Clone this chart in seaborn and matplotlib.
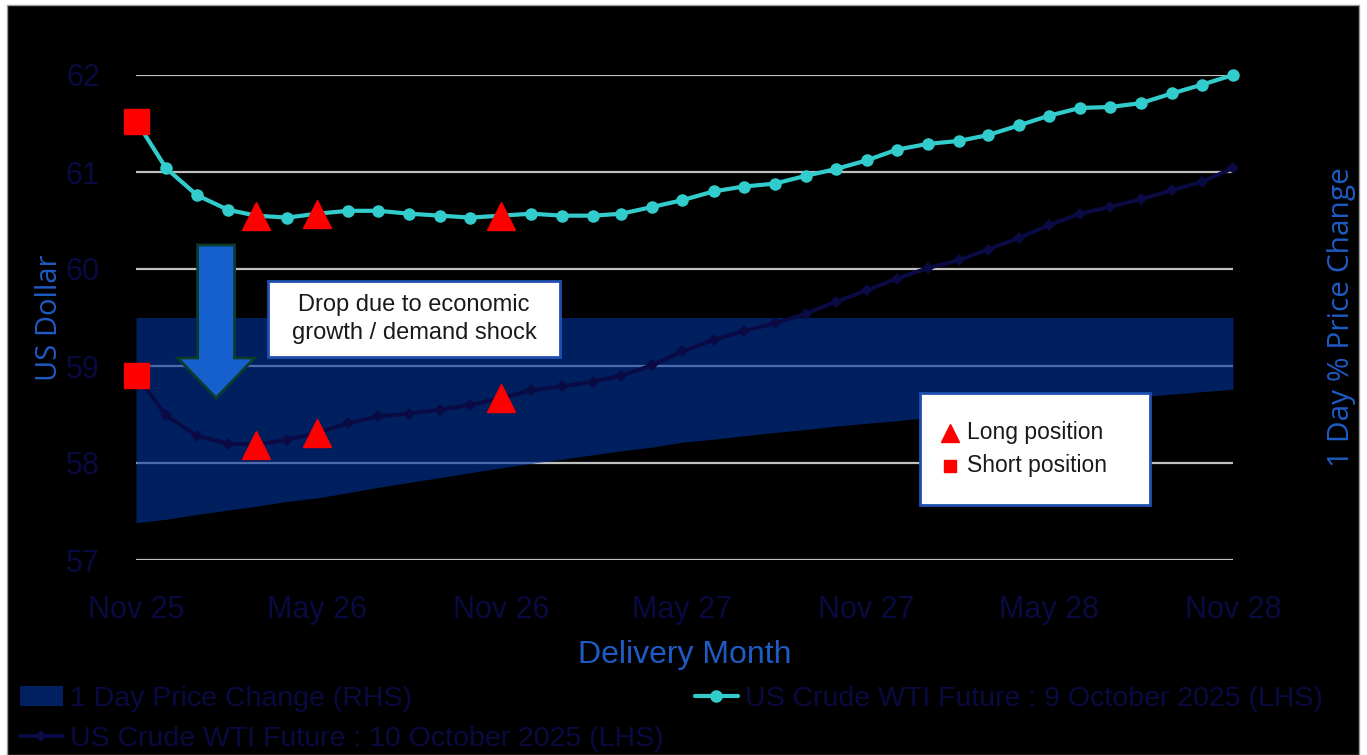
import numpy as np
import pandas as pd
import seaborn as sns
import matplotlib.pyplot as plt
import matplotlib.dates as mdates
from matplotlib.patches import Rectangle, Patch, FancyArrow
from matplotlib.lines import Line2D

# delivery months on the futures curve
delivery = pd.date_range('2025-11-01', '2028-11-01', freq='MS')

# US Crude WTI futures curve, 9 October 2025 (LHS, USD)
wti_9oct = [61.53, 61.04, 60.76, 60.61, 60.55, 60.53, 60.57, 60.60, 60.60, 60.57,
            60.55, 60.53, 60.55, 60.57, 60.55, 60.55, 60.57, 60.64, 60.71, 60.80,
            60.85, 60.88, 60.96, 61.03, 61.12, 61.23, 61.29, 61.32, 61.38, 61.48,
            61.58, 61.66, 61.67, 61.71, 61.81, 61.90, 62.00]

# US Crude WTI futures curve, 10 October 2025 (LHS, USD)
wti_10oct = [58.91, 58.49, 58.28, 58.20, 58.19, 58.24, 58.31, 58.41, 58.48, 58.51,
             58.55, 58.60, 58.67, 58.75, 58.79, 58.84, 58.90, 59.01, 59.15, 59.27,
             59.36, 59.44, 59.54, 59.66, 59.78, 59.90, 60.01, 60.09, 60.20, 60.32,
             60.45, 60.57, 60.64, 60.72, 60.81, 60.90, 61.04]

# 1 day % price change (RHS)
day_change = [-4.23, -4.16, -4.06, -3.97, -3.89, -3.79, -3.72, -3.61, -3.50, -3.40,
              -3.30, -3.20, -3.10, -3.01, -2.92, -2.83, -2.75, -2.67, -2.57, -2.51,
              -2.44, -2.37, -2.31, -2.24, -2.18, -2.13, -2.06, -2.00, -1.93, -1.88,
              -1.82, -1.76, -1.69, -1.63, -1.58, -1.53, -1.48]

long_idx = [4, 6, 12]
short_idx = [0]

df = pd.DataFrame({'month': delivery, 'oct9': wti_9oct, 'oct10': wti_10oct, 'chg': day_change})

W, H = 1367, 755
NAVY_TXT = '#0a0a42'
LABEL_BLUE = '#1f5bc4'
CYAN = '#33cccc'
NAVY = '#0a0a45'

sns.set_style('dark')
plt.rcParams['font.family'] = ['Liberation Sans Narrow', 'Liberation Sans', 'DejaVu Sans']

fig = plt.figure(figsize=(W / 100, H / 100), dpi=100, facecolor='white')
# black chart panel with thin grey border
fig.patches.append(Rectangle((7 / W, 0), 1352 / W, 750 / H, transform=fig.transFigure,
                             facecolor='black', edgecolor='#9a9a9a', lw=1, zorder=-10))

ax = fig.add_axes([136 / W, 1 - 560 / H, 1097 / W, 485 / H])
ax2 = ax.twinx()
ax.set_zorder(2)
ax2.set_zorder(1)
ax.patch.set_visible(False)
ax2.patch.set_visible(False)

# secondary axis: area + gridlines (gridlines coincide with LHS 57..62)
ax2.set_ylim(-5, 5)
ax2.set_yticks([-5, -3, -1, 1, 3, 5])
ax2.grid(True, axis='y', color='#bfbfbf', lw=1.6)
ax2.grid(False, axis='x')
ax2.set_axisbelow(True)
ax2.fill_between(df['month'], 0, df['chg'], color='#0035a0', alpha=0.6, lw=0, zorder=2)
ax2.tick_params(axis='y', length=0, labelright=False)
ax2.set_ylabel('1 Day % Price Change', family='Open Sans', fontsize=21.5, color=LABEL_BLUE)
ax2.yaxis.set_label_coords(1.086, 0.5)

# primary axis: the two futures curves
sns.lineplot(data=df, x='month', y='oct10', ax=ax, color=NAVY, lw=2.8, marker='D',
             markersize=6.5, markeredgewidth=0)
sns.lineplot(data=df, x='month', y='oct9', ax=ax, color=CYAN, lw=3, marker='o',
             markersize=9, markeredgewidth=0)
for ln in ax.lines:
    ln.set_clip_on(False)

for col in ['oct9', 'oct10']:
    ax.plot(df['month'].iloc[long_idx], df[col].iloc[long_idx], ls='none', marker='^',
            markersize=20, color='#ff0000', clip_on=False, zorder=4)
    ax.plot(df['month'].iloc[short_idx], df[col].iloc[short_idx], ls='none', marker='s',
            markersize=18, color='#ff0000', clip_on=False, zorder=4)

ax.set_ylim(57, 62)
ax.set_xlim(delivery[0], delivery[-1])
ax.set_yticks([57, 58, 59, 60, 61, 62])
ax.xaxis.set_major_locator(mdates.MonthLocator(bymonth=[5, 11]))
ax.xaxis.set_major_formatter(mdates.DateFormatter('%b %y'))
ax.tick_params(axis='both', length=0, labelsize=22, labelcolor=NAVY_TXT)
ax.tick_params(axis='y', pad=26)
ax.tick_params(axis='x', pad=25)
ax.grid(False)
for a in (ax, ax2):
    for s in a.spines.values():
        s.set_visible(False)

ax.set_xlabel('Delivery Month', fontsize=23, color=LABEL_BLUE)
ax.xaxis.label.set_va('center')
ax.xaxis.set_label_coords(0.5, -0.196)
ax.set_ylabel('US Dollar', family='Open Sans', fontsize=21, color=LABEL_BLUE)
ax.yaxis.label.set_va('center')
ax.yaxis.set_label_coords(-0.079, 0.5)

# annotation: big down arrow
ax.add_patch(FancyArrow(0.073, 0.6495, 0, -0.3155, width=0.0337, head_width=0.0702,
                        head_length=0.0825, length_includes_head=True,
                        transform=ax.transAxes, facecolor='#1560cc', edgecolor='#0d3b2e',
                        lw=2, zorder=6, clip_on=False))

# annotation: text box
ax.add_patch(Rectangle((0.1203, 0.4186), 0.2662, 0.1567, transform=ax.transAxes,
                       facecolor='white', edgecolor='#1f4fb0', lw=2, zorder=6))
ax.text(0.2534, 0.497, 'Drop due to economic\ngrowth / demand shock', transform=ax.transAxes,
        ha='center', va='center', fontsize=17, color='#1a1a1a', linespacing=1.35, zorder=7)

# annotation: position key box
ax.add_patch(Rectangle((0.7147, 0.1134), 0.2096, 0.2309, transform=ax.transAxes,
                       facecolor='white', edgecolor='#1f4fb0', lw=2, zorder=6))
ax.plot([0.742], [0.262], transform=ax.transAxes, marker='^', markersize=13,
        color='#ff0000', ls='none', zorder=7, clip_on=False)
ax.plot([0.742], [0.194], transform=ax.transAxes, marker='s', markersize=8,
        color='#ff0000', ls='none', zorder=7, clip_on=False)
ax.text(0.7575, 0.262, 'Long position', transform=ax.transAxes, ha='left', va='center',
        fontsize=16.5, color='#1a1a1a', zorder=7)
ax.text(0.7575, 0.194, 'Short position', transform=ax.transAxes, ha='left', va='center',
        fontsize=16.5, color='#1a1a1a', zorder=7)

# bottom legend
h_area = Patch(facecolor='#002060', edgecolor='none')
h_navy = Line2D([], [], color=NAVY, lw=2.8, marker='D', markersize=6.5, markeredgewidth=0)
h_cyan = Line2D([], [], color=CYAN, lw=3, marker='o', markersize=9, markeredgewidth=0)
leg_kw = dict(loc='upper left', frameon=False, fontsize=20.5, labelcolor=NAVY_TXT,
              handlelength=1.5, handletextpad=0.25, borderpad=0, borderaxespad=0,
              labelspacing=0.5)
fig.legend([h_area, h_navy], ['1 Day Price Change (RHS)', 'US Crude WTI Future : 10 October 2025 (LHS)'],
           bbox_to_anchor=(20 / W, 1 - 686 / H), **leg_kw)
fig.legend([h_cyan], ['US Crude WTI Future : 9 October 2025 (LHS)'],
           bbox_to_anchor=(695 / W, 1 - 686 / H), **leg_kw)

fig.savefig('out.png', dpi=100, facecolor='white')
